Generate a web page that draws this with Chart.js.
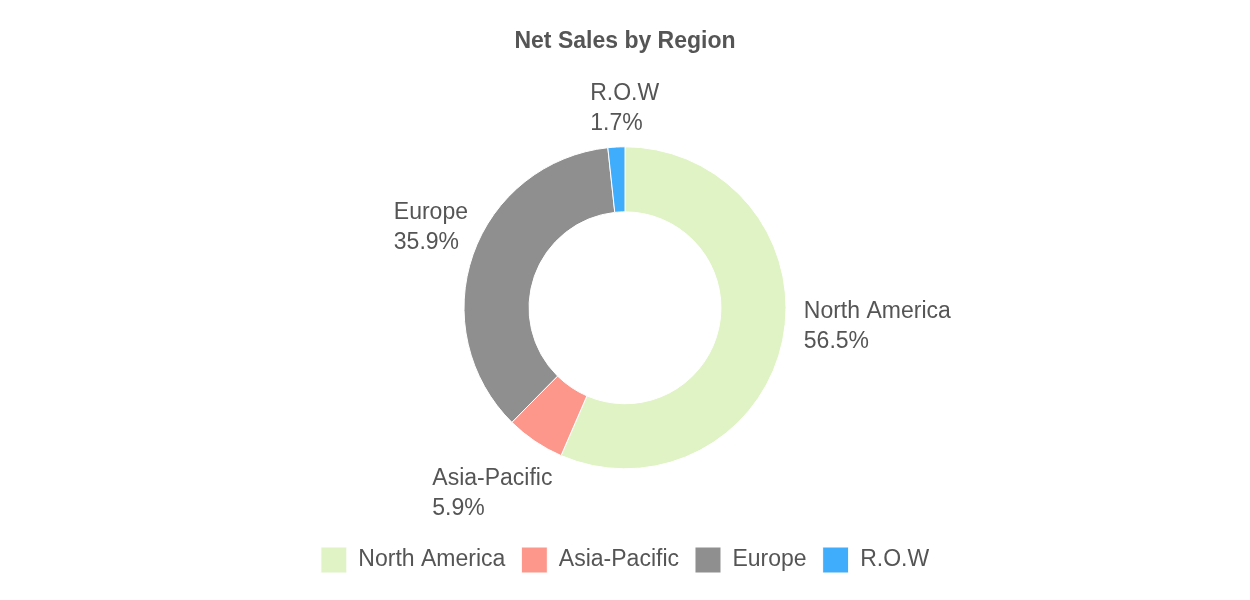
<!DOCTYPE html>
<html>
<head>
<meta charset="utf-8">
<script src="https://cdn.jsdelivr.net/npm/chart.js@4"></script>
<style>
	html, body { margin: 0; padding: 0; background: #fff; }
	#wrap { width: 1250px; height: 600px; }
</style>
</head>
<body>
<div id="wrap"><canvas id="salesChart" width="1250" height="600"></canvas></div>
<script>
// data
const regions = ["North America", "Asia-Pacific", "Europe", "R.O.W"];
const shares = [56.5, 5.9, 35.9, 1.7];
const sliceColors = ["#dff3c4", "#fd978b", "#8f8f8f", "#40adfc"];

const FONT = "'Liberation Sans', Arial, sans-serif";
const TEXT_COLOR = "#555555";

// small fixes so labels sit like the original
const labelNudge = [
	[7, -23],
	[0, 14],
	[8, -12],
	[11, 8],
];

// labels outside the slices
const outsideLabels = {
	id: "outsideLabels",
	afterDatasetsDraw(chart) {
		const ctx = chart.ctx;
		const meta = chart.getDatasetMeta(0);
		ctx.save();
		ctx.font = "23px " + FONT;
		ctx.fillStyle = TEXT_COLOR;
		ctx.textAlign = "left";
		ctx.textBaseline = "middle";
		meta.data.forEach((arc, i) => {
			const mid = (arc.startAngle + arc.endAngle) / 2;
			const cos = Math.cos(mid);
			const sin = Math.sin(mid);
			const lines = [regions[i], shares[i].toFixed(1) + "%"];
			const w = Math.max(...lines.map((l) => ctx.measureText(l).width));
			const lineH = 30;
			const h = lineH * 2;
			const r = arc.outerRadius + 16;
			const cx = arc.x + cos * (r + w / 2) + labelNudge[i][0];
			const cy = arc.y + sin * (r + h / 2) + labelNudge[i][1];
			const left = cx - w / 2;
			ctx.fillText(lines[0], left, cy - lineH / 2);
			ctx.fillText(lines[1], left, cy + lineH / 2);
		});
		ctx.restore();
	},
};

const ctx = document.getElementById("salesChart").getContext("2d");
new Chart(ctx, {
	type: "doughnut",
	data: {
		labels: regions,
		datasets: [
			{
				data: shares,
				backgroundColor: sliceColors,
				borderColor: "#ffffff",
				borderWidth: 1,
				radius: 161,
				cutout: "59.6%",
			},
		],
	},
	options: {
		responsive: false,
		animation: false,
		layout: { padding: { bottom: 17 } },
		plugins: {
			title: {
				display: true,
				text: "Net Sales by Region",
				color: TEXT_COLOR,
				font: { family: FONT, size: 23, weight: "bold" },
				padding: { top: 28, bottom: 29 },
			},
			legend: {
				position: "bottom",
				labels: {
					color: TEXT_COLOR,
					font: { family: FONT, size: 23 },
					boxWidth: 26,
					boxHeight: 26,
					padding: 16,
				},
			},
			tooltip: { enabled: false },
		},
	},
	plugins: [outsideLabels],
});
</script>
</body>
</html>
